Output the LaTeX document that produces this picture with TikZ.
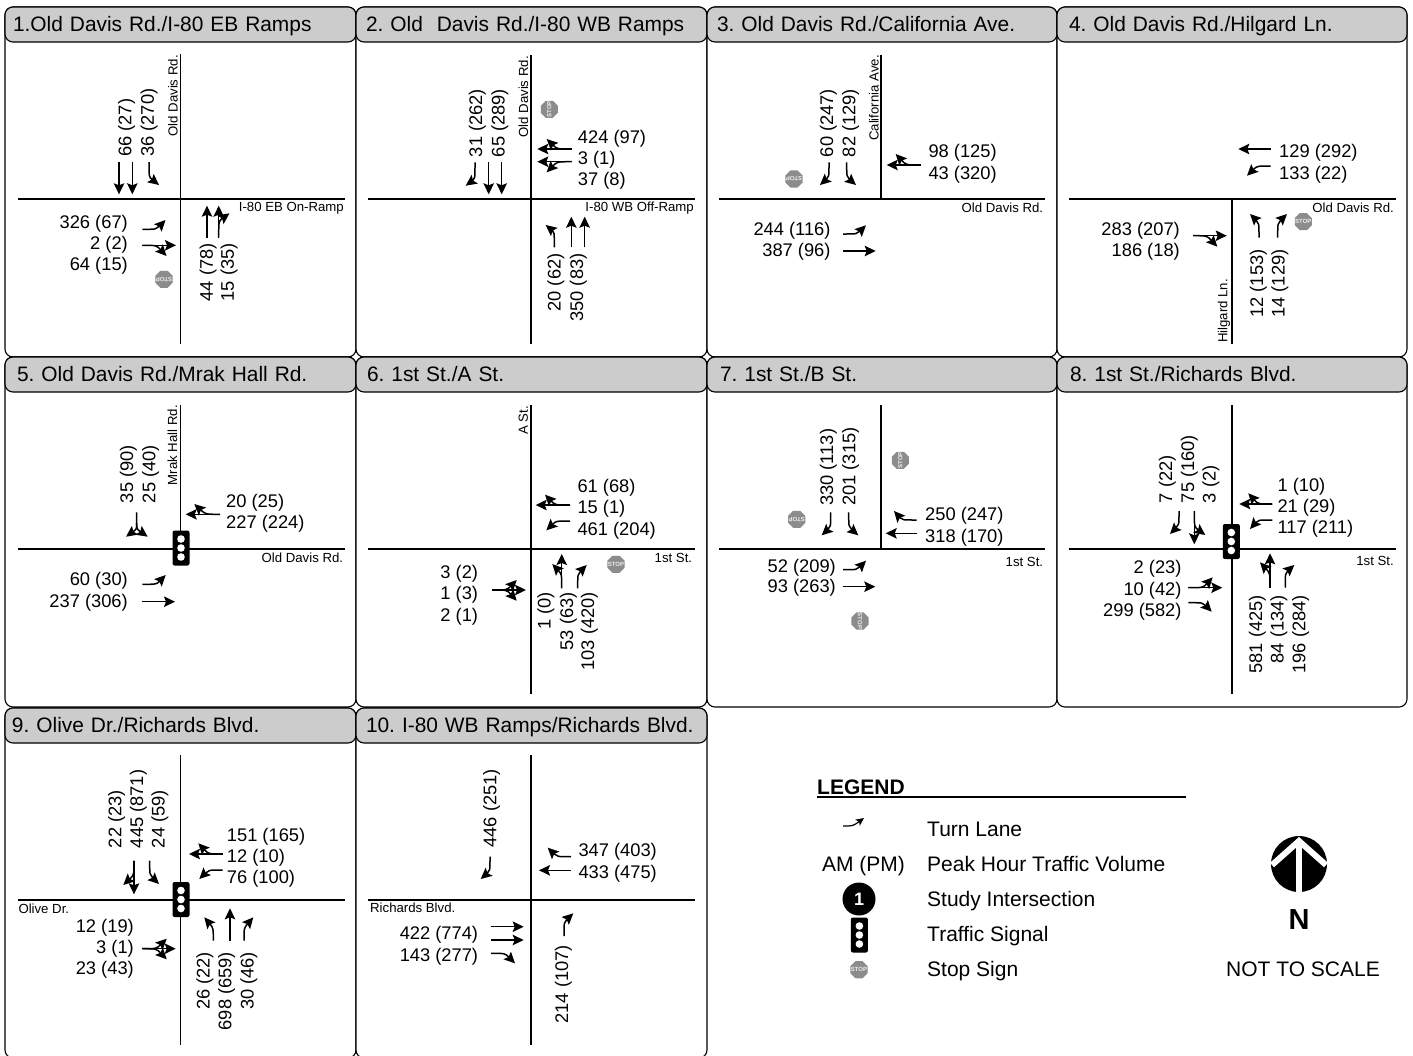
\documentclass[tikz,border=0pt]{standalone}
\usepackage{fontspec}
\setmainfont{Liberation Sans}
\usetikzlibrary{
  arrows.meta,       % for lane tips
  shapes.geometric}  % for stop sign
\definecolor{headergray}{HTML}{CCCCCC}
\definecolor{stopgray}{HTML}{8C8C8C}
\newcommand*\stoptext{\makebox[0pt]{STOP}}
\tikzset{
  panel box/.style={
    shape=rectangle, rounded corners=8pt, draw=black, line width=1.1pt,
    fill=white, outer sep=0pt, minimum height=350pt, anchor=north west},
  title bar/.style={
    shape=rectangle, rounded corners=8pt, draw=black, line width=1.1pt,
    fill=headergray, outer sep=0pt, inner ysep=0pt, anchor=north west,
    minimum height=35pt, align=left, text depth=.25ex,
    font=\fontsize{20.9}{24}\selectfont},
  road line/.style={line width=1.2pt},
  road label/.style={
    inner sep=0pt, font=\fontsize{13.2}{15}\selectfont},
  up label/.style={road label, rotate=90},
  vol/.style={
    inner sep=0pt, text height=12.8pt, text depth=0pt,
    font=\fontsize{18.3}{20}\selectfont},
  west vol/.style={vol, anchor=east},
  east vol/.style={vol, anchor=west},
  north vol/.style={vol, rotate=90, anchor=west},
  south vol/.style={vol, rotate=90, anchor=east},
  lane/.style={line width=1.5pt, -{Stealth[length=11pt, width=10.5pt, inset=2pt]}},
  stop sign/.style={
    shape=regular polygon, regular polygon sides=8, fill=stopgray, text=white!85!stopgray,
    inner sep=0pt, minimum size=18.5pt, font=\fontsize{6}{6}\bfseries},
  traffic signal/.style={
    shape=rectangle, rounded corners=2pt, fill=black, inner sep=0pt,
    minimum width=17pt, minimum height=35pt,
    path picture={
      \foreach \d in {-9,0,9}
        \fill[white] (path picture bounding box.center) ++(0,\d) circle (3.8);}},
  legend text/.style={
    inner sep=0pt, text height=15.1pt, text depth=0pt,
    font=\fontsize{21}{23}\selectfont}
}
\begin{document}
\frenchspacing
\begin{tikzpicture}[x=1pt, y=-1pt]
\useasboundingbox[fill=white] (0,0) rectangle (1413,1055);

\foreach \name/\px/\py/\pw/\tx/\ttl in {
  1/5/7/351/8/{1.Old Davis Rd./I-80 EB Ramps},
  2/356/7/351/10/{2. Old\ \ Davis Rd./I-80 WB Ramps},
  3/707/7/350/10/{3. Old Davis Rd./California Ave.},
  4/1057/7/350/12/{4. Old Davis Rd./Hilgard Ln.},
  5/5/357/351/12/{5. Old Davis Rd./Mrak Hall Rd.},
  6/356/357/351/11/{6. 1st St./A St.},
  7/707/357/350/13/{7. 1st St./B St.},
  8/1057/357/350/13/{8. 1st St./Richards Blvd.},
  9/5/708/351/7/{9. Olive Dr./Richards Blvd.},
  10/356/708/351/10/{10. I-80 WB Ramps/Richards Blvd.}} {
  \node[panel box, minimum width=\pw pt] (p\name) at (\px,\py) {};
  \node[title bar, minimum width=\pw pt, text width=\pw pt-2*\tx pt, inner xsep=\tx pt]
    (p\name-t) at (\px,\py) {\makebox[0pt][l]{\ttl}};
}

% 1
\begin{scope}[shift={(180.5,199)}]
  \draw[road line] (0,-145) -- (0,145) (-162.5,0) -- (164.5,0);
  \node[up label, anchor=east] (p1-r1) at (-7.5,-144) {Old Davis Rd.};
  \node[road label, anchor=east] (p1-r2) at (163.5,9) {I-80 EB On-Ramp};
  \node[north vol] (p1-n1) at (-55.5,-42) {66 (27)};
  \node[north vol] (p1-n2) at (-33,-42) {36 (270)};
  \node[west vol] (p1-w1) at (-52.5,22.7) {326 (67)};
  \node[west vol] (p1-w2) at (-52.5,44.3) {2 (2)};
  \node[west vol] (p1-w3) at (-52.5,65.3) {64 (15)};
  \node[south vol] (p1-s1) at (26,44) {44 (78)};
  \node[south vol] (p1-s2) at (47,44) {15 (35)};
  \draw[lane] (-61.5,-37) -- (-61.5,-4.7);
  \draw[lane] (-48.2,-37) -- (-48.2,-4.7);
  \draw[lane] (-31.5,-37) .. controls (-31.5,-22) .. (-21.5,-14);
  \draw[lane] (-38.2,30.3) .. controls (-24,30.3) .. (-15,21);
  \draw[lane] (-38.2,46.3) -- (-4.5,46.3);
  \draw[lane] (-38.2,46.3) .. controls (-24,46.3) .. (-14,57);
  \draw[lane] (26.5,38.7) -- (26.5,6.7);
  \draw[lane] (38.2,38.7) -- (38.2,6.7);
  \draw[lane] (38.2,38.7) .. controls (38.2,22) .. (49,14.3);
  \node[stop sign, rotate=180] (p1-stop) at (-16.5,80.3) {\stoptext};
\end{scope}

% 2
\begin{scope}[shift={(531,199)}]
  \draw[road line] (0,-144) -- (0,145) (-163,0) -- (164,0);
  \node[up label, anchor=east] (p2-r1) at (-7.7,-143) {Old Davis Rd.};
  \node[road label, anchor=east] (p2-r2) at (163,9.3) {I-80 WB Off-Ramp};
  \node[north vol] (p2-n1) at (-55.3,-41.7) {31 (262)};
  \node[north vol] (p2-n2) at (-32.7,-41.7) {65 (289)};
  \node[east vol] (p2-e1) at (46.7,-62.3) {424 (97)};
  \node[east vol] (p2-e2) at (46.7,-41) {3 (1)};
  \node[east vol] (p2-e3) at (46.7,-20.3) {37 (8)};
  \node[south vol] (p2-s1) at (23.3,54.3) {20 (62)};
  \node[south vol] (p2-s2) at (45.7,54.3) {350 (83)};
  \draw[lane] (-56,-36.7) .. controls (-56,-20) .. (-65.3,-13.3);
  \draw[lane] (-42.3,-36.7) -- (-42.3,-4.7);
  \draw[lane] (-29.3,-36.7) -- (-29.3,-4.7);
  \draw[lane] (40.7,-50) -- (6.3,-50);
  \draw[lane] (40.7,-50) .. controls (26,-50) .. (15.7,-60);
  \draw[lane] (40.7,-37.3) -- (6.3,-37.3);
  \draw[lane] (40.7,-37.3) .. controls (26,-37.3) .. (15.7,-26.7);
  \draw[lane] (23.3,48.3) .. controls (23.3,33) .. (14.7,26);
  \draw[lane] (40.3,48.3) -- (40.3,17.7);
  \draw[lane] (53.7,48.3) -- (53.7,17.7);
  \node[stop sign, rotate=90] (p2-stop) at (18.3,-89.7) {\stoptext};
\end{scope}

% 3
\begin{scope}[shift={(881,199)}]
  \draw[road line] (0,-144) -- (0,0) (-162,0) -- (164,0);
  \node[up label, anchor=east] (p3-r1) at (-7,-144) {California Ave.};
  \node[road label, anchor=east] (p3-r2) at (162.3,8.7) {Old Davis Rd.};
  \node[north vol] (p3-n1) at (-54.3,-41.7) {60 (247)};
  \node[north vol] (p3-n2) at (-32,-41.7) {82 (129)};
  \node[east vol] (p3-e1) at (47.3,-48.3) {98 (125)};
  \node[east vol] (p3-e2) at (47.3,-26.3) {43 (320)};
  \node[west vol] (p3-w1) at (-50.3,30.3) {244 (116)};
  \node[west vol] (p3-w2) at (-50.3,51) {387 (96)};
  \draw[lane] (-52,-36.7) .. controls (-52,-22) .. (-61,-14);
  \draw[lane] (-34.3,-36.7) .. controls (-34.3,-22) .. (-25,-14);
  \draw[lane] (39.7,-34) -- (5.7,-34);
  \draw[lane] (39.7,-34) .. controls (25,-34) .. (14.7,-45);
  \draw[lane] (-38,35) .. controls (-24,35) .. (-15,26.3);
  \draw[lane] (-38,52) -- (-5.3,52);
  \node[stop sign, rotate=180] (p3-stop) at (-87,-20) {\stoptext};
\end{scope}

% 4
\begin{scope}[shift={(1232,199)}]
  \draw[road line] (0,0) -- (0,145) (-163,0) -- (164,0);
  \node[up label, anchor=west] (p4-r1) at (-8,144) {Hilgard Ln.};
  \node[road label, anchor=east] (p4-r2) at (162,8.7) {Old Davis Rd.};
  \node[east vol] (p4-e1) at (47,-48.3) {129 (292)};
  \node[east vol] (p4-e2) at (47,-26.3) {133 (22)};
  \node[west vol] (p4-w1) at (-52,29.7) {283 (207)};
  \node[west vol] (p4-w2) at (-52,51) {186 (18)};
  \node[south vol] (p4-s1) at (24.7,50.3) {12 (153)};
  \node[south vol] (p4-s2) at (46.3,50.3) {14 (129)};
  \draw[lane] (38.7,-50) -- (6.3,-50);
  \draw[lane] (38.7,-33) .. controls (25,-33) .. (15,-23.3);
  \draw[lane] (-39,36.7) -- (-5.3,36.7);
  \draw[lane] (-39,36.7) .. controls (-25,36.7) .. (-14.7,47.7);
  \draw[lane] (27,38.7) .. controls (27,24) .. (18,15);
  \draw[lane] (45.7,38.7) .. controls (45.7,24) .. (55,15);
  \node[stop sign] (p4-stop) at (71.3,22.7) {\stoptext};
\end{scope}

% 5
\begin{scope}[shift={(180.5,549)}]
  \draw[road line] (0,-144) -- (0,0) (-162.5,0) -- (164.5,0);
  \node[up label, anchor=east] (p5-r1) at (-8.2,-144) {Mrak Hall Rd.};
  \node[road label, anchor=east] (p5-r2) at (162.8,9) {Old Davis Rd.};
  \node[north vol] (p5-n1) at (-53.8,-45.7) {35 (90)};
  \node[north vol] (p5-n2) at (-31.5,-45.7) {25 (40)};
  \node[east vol] (p5-e1) at (45.5,-48) {20 (25)};
  \node[east vol] (p5-e2) at (45.5,-26.7) {227 (224)};
  \node[west vol] (p5-w1) at (-52.5,30.3) {60 (30)};
  \node[west vol] (p5-w2) at (-52.5,52) {237 (306)};
  \draw[lane] (-43.8,-36.7) -- (-43.8,-26) .. controls (-43.8,-20) .. (-54.5,-12.3);
  \draw[lane] (-43.8,-26) .. controls (-43.8,-20) .. (-32.8,-12.3);
  \draw[lane] (39.5,-34.7) -- (5.2,-34.7);
  \draw[lane] (39.5,-34.7) .. controls (25,-34.7) .. (13.8,-45);
  \draw[lane] (-38.2,35.3) .. controls (-24,35.3) .. (-14.8,26);
  \draw[lane] (-38.2,52.7) -- (-5.5,52.7);
  \node[traffic signal] (p5-sig) at (0.5,-1) {};
\end{scope}

% 6
\begin{scope}[shift={(531,549)}]
  \draw[road line] (0,-144) -- (0,145) (-163,0) -- (164,0);
  \node[up label, anchor=east] (p6-r1) at (-7.7,-143) {A St.};
  \node[road label, anchor=east] (p6-r2) at (161.3,8.7) {1st St.};
  \node[east vol] (p6-e1) at (46.3,-63) {61 (68)};
  \node[east vol] (p6-e2) at (46.3,-41.7) {15 (1)};
  \node[east vol] (p6-e3) at (46.3,-20) {461 (204)};
  \node[west vol] (p6-w1) at (-52.7,23.3) {3 (2)};
  \node[west vol] (p6-w2) at (-52.7,44.3) {1 (3)};
  \node[west vol] (p6-w3) at (-52.7,66) {2 (1)};
  \node[south vol] (p6-s1) at (13.3,43) {1 (0)};
  \node[south vol] (p6-s2) at (35.7,43) {53 (63)};
  \node[south vol] (p6-s3) at (56.7,43) {103 (420)};
  \draw[lane] (39,-44) -- (4.7,-44);
  \draw[lane] (39,-44) .. controls (24,-44) .. (14,-54.3);
  \draw[lane] (39,-28) .. controls (25,-28) .. (15.3,-18.7);
  \draw[lane] (-38.7,41) -- (-5,41);
  \draw[lane] (-38.7,41) .. controls (-24,41) .. (-14.3,31);
  \draw[lane] (-38.7,41) .. controls (-24,41) .. (-14.3,51.7);
  \draw[lane] (30.7,39.3) -- (30.7,5);
  \draw[lane] (30.7,39.3) .. controls (30.7,25) .. (21.3,15);
  \draw[lane] (46.7,39.3) .. controls (46.7,25) .. (55.7,16);
  \node[stop sign] (p6-stop) at (85,15.3) {\stoptext};
\end{scope}

% 7
\begin{scope}[shift={(881,549)}]
  \draw[road line] (0,-144) -- (0,0) (-162,0) -- (164,0);
  \node[road label, anchor=east] (p7-r1) at (162.3,12.7) {1st St.};
  \node[north vol] (p7-n1) at (-54.3,-43) {330 (113)};
  \node[north vol] (p7-n2) at (-32,-43) {201 (315)};
  \node[east vol] (p7-e1) at (44,-34.7) {250 (247)};
  \node[east vol] (p7-e2) at (44,-13.3) {318 (170)};
  \node[west vol] (p7-w1) at (-45,16.7) {52 (209)};
  \node[west vol] (p7-w2) at (-45,37) {93 (263)};
  \draw[lane] (35.7,-29) .. controls (21,-29) .. (13,-38);
  \draw[lane] (35.7,-15.7) -- (4.7,-15.7);
  \draw[lane] (-50.3,-36.7) .. controls (-50.3,-22) .. (-59.3,-13.7);
  \draw[lane] (-32.3,-36.7) .. controls (-32.3,-22) .. (-22.7,-13.7);
  \draw[lane] (-38,20.7) .. controls (-24,20.7) .. (-15,11.7);
  \draw[lane] (-38,37.7) -- (-5.7,37.7);
  \node[stop sign, rotate=90] (p7-stop1) at (19.3,-88.7) {\stoptext};
  \node[stop sign, rotate=180] (p7-stop2) at (-84.3,-29.7) {\stoptext};
  \node[stop sign, rotate=-90] (p7-stop3) at (-21,72) {\stoptext};
\end{scope}

% 8
\begin{scope}[shift={(1232,549)}]
  \draw[road line] (0,-144) -- (0,145) (-163,0) -- (164,0);
  \node[road label, anchor=east] (p8-r1) at (162,12) {1st St.};
  \node[north vol] (p8-n1) at (-66.3,-45.7) {7 (22)};
  \node[north vol] (p8-n2) at (-44.3,-45.7) {75 (160)};
  \node[north vol] (p8-n3) at (-22.7,-45.7) {3 (2)};
  \node[east vol] (p8-e1) at (45.3,-64) {1 (10)};
  \node[east vol] (p8-e2) at (45.3,-43.3) {21 (29)};
  \node[east vol] (p8-e3) at (45.3,-21.7) {117 (211)};
  \node[west vol] (p8-w1) at (-50.3,18.3) {2 (23)};
  \node[west vol] (p8-w2) at (-50.3,40) {10 (42)};
  \node[west vol] (p8-w3) at (-50.3,61) {299 (582)};
  \node[south vol] (p8-s1) at (23.7,46) {581 (425)};
  \node[south vol] (p8-s2) at (45.3,46) {84 (134)};
  \node[south vol] (p8-s3) at (67,46) {196 (284)};
  \draw[lane] (-53,-38) .. controls (-53,-24) .. (-62,-15);
  \draw[lane] (-37.7,-38) -- (-37.7,-4.7);
  \draw[lane] (-37.7,-38) .. controls (-37.7,-22) .. (-26.7,-14);
  \draw[lane] (40.3,-45) -- (7.3,-45);
  \draw[lane] (40.3,-45) .. controls (26,-45) .. (16.3,-55.7);
  \draw[lane] (40.3,-29) .. controls (26,-29) .. (18,-20);
  \draw[lane] (-43.7,38.7) -- (-9.7,38.7);
  \draw[lane] (-43.7,38.7) .. controls (-29,38.7) .. (-19.3,28.3);
  \draw[lane] (-43.7,53.7) .. controls (-29,53.7) .. (-20.3,62.7);
  \draw[lane] (38,38.7) -- (38,4.3);
  \draw[lane] (38,38.7) .. controls (38,24) .. (28,13.3);
  \draw[lane] (53.3,38.7) .. controls (53.3,24) .. (62.3,16);
  \node[traffic signal] (p8-sig) at (-0.7,-7.5) {};
\end{scope}

% 9
\begin{scope}[shift={(180.5,900)}]
  \draw[road line] (0,-145) -- (0,145) (-162.5,0) -- (164.5,0);
  \node[road label, anchor=west] (p9-r1) at (-162.2,9) {Olive Dr.};
  \node[north vol] (p9-n1) at (-65.5,-51.7) {22 (23)};
  \node[north vol] (p9-n2) at (-43.8,-51.7) {445 (871)};
  \node[north vol] (p9-n3) at (-22.2,-51.7) {24 (59)};
  \node[east vol] (p9-e1) at (46.2,-64.7) {151 (165)};
  \node[east vol] (p9-e2) at (46.2,-44) {12 (10)};
  \node[east vol] (p9-e3) at (46.2,-23.3) {76 (100)};
  \node[west vol] (p9-w1) at (-46.5,25.7) {12 (19)};
  \node[west vol] (p9-w2) at (-46.5,46.7) {3 (1)};
  \node[west vol] (p9-w3) at (-46.5,68.3) {23 (43)};
  \node[south vol] (p9-s1) at (22.8,51.7) {26 (22)};
  \node[south vol] (p9-s2) at (44.5,51.7) {698 (659)};
  \node[south vol] (p9-s3) at (66.8,51.7) {30 (46)};
  \draw[lane] (-46.5,-39.3) -- (-46.5,-5.7);
  \draw[lane] (-46.5,-39.3) .. controls (-46.5,-25) .. (-57.2,-15);
  \draw[lane] (-30.8,-39.3) .. controls (-30.8,-25) .. (-21.5,-16);
  \draw[lane] (42.2,-46) -- (8.5,-46);
  \draw[lane] (42.2,-46) .. controls (28,-46) .. (17.8,-56.7);
  \draw[lane] (42.2,-30) .. controls (28,-30) .. (18.8,-21);
  \draw[lane] (-38.2,48.7) -- (-4.8,48.7);
  \draw[lane] (-38.2,48.7) .. controls (-24,48.7) .. (-13.8,38.7);
  \draw[lane] (-38.2,48.7) .. controls (-24,48.7) .. (-13.8,59.3);
  \draw[lane] (32.8,40.7) .. controls (32.8,28) .. (23.8,17.3);
  \draw[lane] (49.5,40.7) -- (49.5,8.3);
  \draw[lane] (63.5,40.7) .. controls (63.5,28) .. (72.8,17.3);
  \node[traffic signal] (p9-sig) at (0.5,-0.5) {};
\end{scope}

% 10
\begin{scope}[shift={(531,900)}]
  \draw[road line] (0,-145) -- (0,145) (-163,0) -- (164,0);
  \node[road label, anchor=west] (p10-r1) at (-161,8) {Richards Blvd.};
  \node[north vol] (p10-n1) at (-41,-52.3) {446 (251)};
  \node[east vol] (p10-e1) at (47.3,-50) {347 (403)};
  \node[east vol] (p10-e2) at (47.3,-28.3) {433 (475)};
  \node[west vol] (p10-w1) at (-52.7,33.3) {422 (774)};
  \node[west vol] (p10-w2) at (-52.7,55) {143 (277)};
  \node[south vol] (p10-s1) at (30.7,45) {214 (107)};
  \draw[lane] (-41,-43.3) .. controls (-41,-29) .. (-50.3,-21);
  \draw[lane] (40,-43.3) .. controls (26,-43.3) .. (16.7,-52.3);
  \draw[lane] (40,-29.7) -- (8,-29.7);
  \draw[lane] (-40,26.7) -- (-7.3,26.7);
  \draw[lane] (-40,40) -- (-7.3,40);
  \draw[lane] (-40,53.3) .. controls (-26,53.3) .. (-16,63.3);
  \draw[lane] (33,36) .. controls (33,22) .. (42.3,13.3);
\end{scope}

% legend
\node[legend text, anchor=west, font=\fontsize{21}{23}\bfseries] (leg-title) at (817,787) {LEGEND};
\draw[line width=1.6pt] (817,797) -- (1186,797);
\draw[line width=1.2pt, -{Stealth[length=8pt, width=7.5pt, inset=2pt]}] (843,826) .. controls (853,826) .. (864,818);
\node[legend text] (leg-vol) at (863.5,864) {AM (PM)};
\node[circle, fill=black, minimum size=33pt, inner sep=0pt, text=white,
  font=\fontsize{18}{18}\bfseries] (leg-num) at (859,899) {1};
\node[traffic signal] (leg-sig) at (859.4,935) {};
\node[stop sign] (leg-stop) at (859,969.7) {\stoptext};
\foreach \y/\txt in {829/Turn Lane, 864/Peak Hour Traffic Volume,
    899/Study Intersection, 934/Traffic Signal, 969/Stop Sign}
  \node[legend text, anchor=west] (leg-\y) at (927,\y) {\txt};

\node[circle, fill=black, minimum size=56pt, inner sep=0pt, path picture={
    \begin{scope}[shift={(path picture bounding box.center)}]
      \draw[white, line width=6pt] (0,31) -- (0,-23);
      \draw[white, line width=6pt] (-27,1) -- (0,-23) -- (27,1);
    \end{scope}}]
  (north-arrow) at (1299,864) {};
\node[inner sep=0pt, font=\fontsize{29}{30}\bfseries] (north-n) at (1299,920) {N};
\node[legend text] (no-scale) at (1303,969) {NOT TO SCALE};
\end{tikzpicture}
\end{document}
